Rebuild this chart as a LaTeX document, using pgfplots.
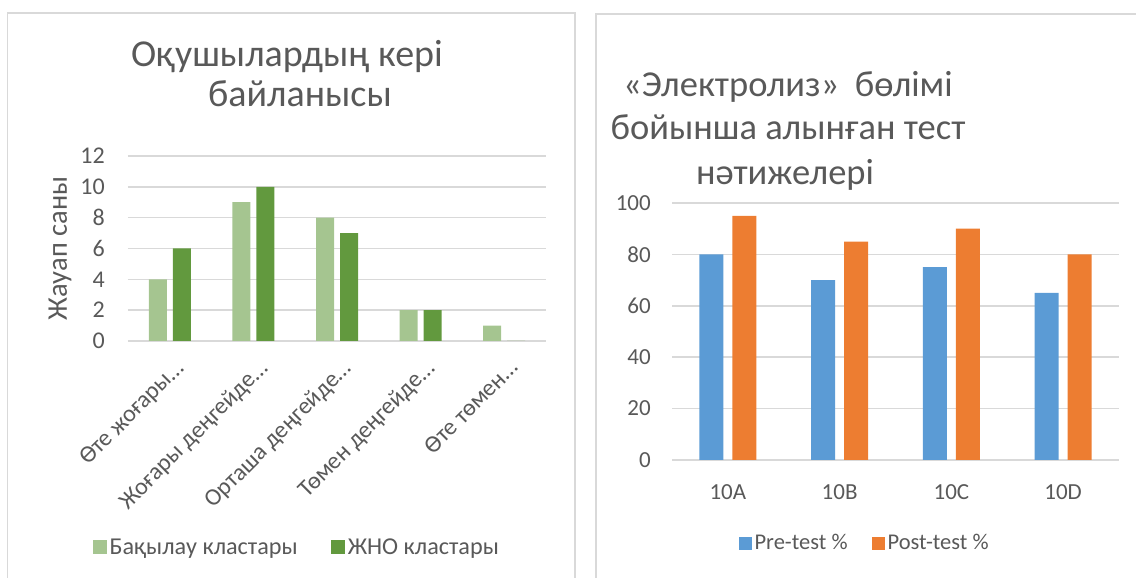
\documentclass[border=0pt]{standalone}
\usepackage{pgfplots}
\pgfplotsset{compat=1.18}
\usepackage{fontspec}
\setmainfont{Carlito}
\definecolor{lgreen}{HTML}{A5C590}
\definecolor{dgreen}{HTML}{62993E}
\definecolor{xblue}{HTML}{5B9BD5}
\definecolor{xorange}{HTML}{ED7D31}
\definecolor{gridgray}{HTML}{D9D9D9}
\definecolor{txtgray}{HTML}{595959}
\pgfplotsset{
  sqlegend/.style={legend image code/.code={\fill[##1] (0pt,-7pt) rectangle (14pt,7pt);}},
  excel/.style={
    scale only axis,
    ybar,
    axis line style={draw=none},
    major tick length=0pt,
    ymajorgrids,
    grid style={gridgray, line width=1.5pt},
    /pgf/number format/assume math mode=true,
    yticklabel style={anchor=east, inner sep=0pt},
    legend columns=2,
  },
}
\begin{document}
\begin{tikzpicture}
\useasboundingbox (0pt,0pt) rectangle (1136pt,578pt);
% panel borders
\draw[gridgray, line width=1.5pt] (7.5pt,-5pt) -- (7.5pt,565pt) -- (575pt,565pt) -- (575pt,-5pt);
\draw[gridgray, line width=1.5pt] (596pt,-5pt) -- (596pt,564pt) -- (1140pt,564pt);
% titles
\node[anchor=base, font=\fontsize{38}{44}\selectfont, text=txtgray] at (287pt,511pt) {Оқушылардың кері};
\node[anchor=base, font=\fontsize{38}{44}\selectfont, text=txtgray] at (300pt,471pt) {байланысы};
\node[anchor=base, font=\fontsize{36.5}{42}\selectfont, text=txtgray] at (788pt,481pt) {«Электролиз»\hspace{0.2em} бөлімі};
\node[anchor=base, font=\fontsize{36.5}{42}\selectfont, text=txtgray] at (788pt,438pt) {бойынша алынған тест};
\node[anchor=base, font=\fontsize{36.5}{42}\selectfont, text=txtgray] at (785pt,393pt) {нәтижелері};

\begin{axis}[excel,
  at={(128pt,237pt)}, anchor=south west,
  width=418pt, height=185pt,
  xmin=-0.5, xmax=4.5, ymin=0, ymax=12,
  ytick={0,2,...,12},
  xtick={0,1,2,3,4},
  tick label style={font=\fontsize{24}{28}\selectfont, text=txtgray},
  xticklabels={Өте жоғары…, Жоғары деңгейде…, Орташа деңгейде…, Төмен деңгейде…, Өте төмен…},
  xticklabel style={xshift=4pt, yshift=-17pt, rotate=45, anchor=north east, inner sep=0pt},
  yticklabel style={xshift=-23pt},
  bar width=18pt,
  ylabel={Жауап саны},
  every axis y label/.style={at={(axis description cs:-0.146,0.5)}, rotate=90, anchor=base, font=\fontsize{28.5}{32}\selectfont, text=txtgray},
  legend style={at={(axis description cs:0.405,-1.114)}, anchor=center, draw=none, fill=none,
    font=\fontsize{24.2}{28}\selectfont, text=txtgray,
    nodes={inner sep=2.5pt},
    /tikz/every even column/.append style={column sep=31pt}},
]
\addplot[fill=lgreen, draw=none, bar shift=-12pt, sqlegend] coordinates {(0,4) (1,9) (2,8) (3,2) (4,1)};
\addplot[fill=dgreen, draw=none, bar shift=12pt, sqlegend] coordinates {(0,6) (1,10) (2,7) (3,2) (4,0)};
\legend{Бақылау кластары, ЖНО кластары}
\end{axis}

\begin{axis}[excel,
  at={(672pt,118pt)}, anchor=south west,
  width=447pt, height=257pt,
  xmin=-0.5, xmax=3.5, ymin=0, ymax=100,
  ytick={0,20,...,100},
  xtick={0,1,2,3},
  tick label style={font=\fontsize{23}{27}\selectfont, text=txtgray},
  xticklabels={10A,10B,10C,10D},
  xticklabel style={anchor=base, inner sep=0pt, yshift=-40pt},
  yticklabel style={xshift=-21pt},
  bar width=24pt,
  legend style={at={(axis description cs:0.432,-0.323)}, anchor=center, draw=none, fill=none,
    font=\fontsize{22.5}{26}\selectfont, text=txtgray,
    nodes={inner sep=2.5pt},
    /tikz/every even column/.append style={column sep=22pt}},
  sqlegend/.style={legend image code/.code={\fill[##1] (0pt,-6.5pt) rectangle (13pt,6.5pt);}},
]
\addplot[fill=xblue, draw=none, bar shift=-16.5pt, sqlegend] coordinates {(0,80) (1,70) (2,75) (3,65)};
\addplot[fill=xorange, draw=none, bar shift=16.5pt, sqlegend] coordinates {(0,95) (1,85) (2,90) (3,80)};
\legend{Pre-test \%, Post-test \%}
\end{axis}
\end{tikzpicture}
\end{document}
